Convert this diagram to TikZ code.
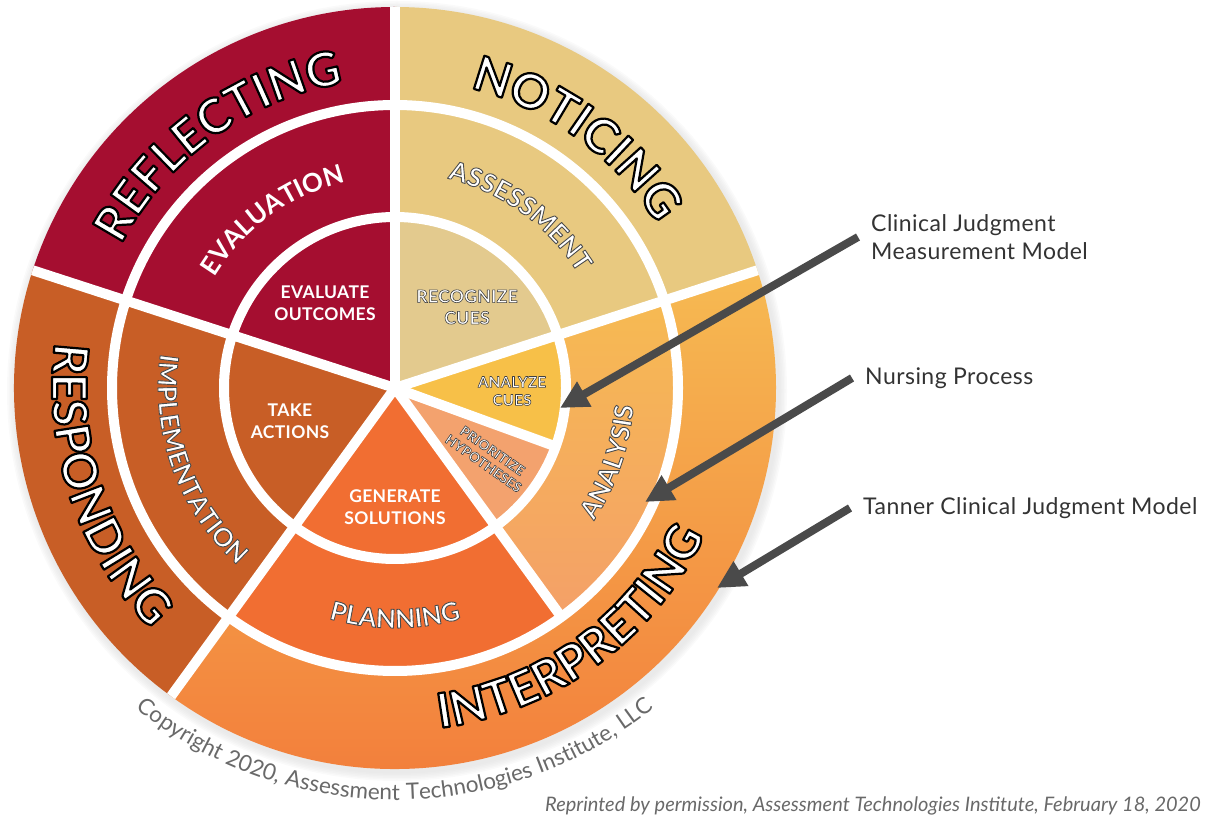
\documentclass[tikz,border=0pt]{standalone}
\usepackage{fontspec}
\setmainfont{Lato}
\usetikzlibrary{arrows.meta,calc,positioning,decorations.text}

\definecolor{my_red}{RGB}{165, 14, 48}
\definecolor{my_tan}{RGB}{232, 201, 128}
\definecolor{my_tan_in}{RGB}{227, 202, 142}
\definecolor{my_rust}{RGB}{200, 94, 38}
\definecolor{my_orange}{RGB}{241, 110, 50}
\definecolor{my_gold}{RGB}{247, 192, 72}
\definecolor{my_salmon}{RGB}{243, 162, 110}
\definecolor{my_amber}{RGB}{246, 186, 82}
\definecolor{my_peach}{RGB}{244, 160, 104}
\definecolor{my_coral}{RGB}{242, 122, 58}
\definecolor{my_arrow}{RGB}{74, 74, 74}
\definecolor{my_text}{RGB}{51, 51, 51}
\definecolor{my_copy}{RGB}{105, 105, 105}
\definecolor{my_shadow}{RGB}{215, 215, 215}

% white letters with a stroked outline (fill then stroke)
\newcommand{\olb}{\special{pdf:literal direct 1 g 0 G 2 Tr 2.2 w 1 j}}
\newcommand{\olg}{\special{pdf:literal direct 1 g 0.3 G 2 Tr 0.9 w 1 j}}
\newcommand{\ols}{\special{pdf:literal direct 1 g 0.25 G 2 Tr 0.6 w 1 j}}
\newcommand{\phasefont}{\fontsize{48}{48}\selectfont\bfseries}
\newcommand{\stepfont}{\fontsize{26}{26}\selectfont\bfseries}
\newcommand{\copyfont}{\fontsize{22.5}{22.5}\selectfont\addfontfeatures{LetterSpace=2.5}}
\newcommand{\wedgefill}[4]{\fill [#1] (0,0) -- (#3:#2) arc [start angle=#3, end angle=#4, radius=#2] -- cycle;}

\tikzset{
  sep_line/.style = {white, line width=10pt},
  ring_text/.style = {decorate, decoration={text along path, text align=center}},
  in_label/.style = {align=center, text=white, inner sep=0pt,
    font=\fontsize{17.5}{21.5}\selectfont\bfseries\addfontfeatures{LetterSpace=2}},
  side_label/.style = {align=left, text=my_text, inner xsep=13pt, inner ysep=0pt,
    font=\fontsize{23}{28}\selectfont\addfontfeatures{LetterSpace=2}},
  pointer/.style = {draw=my_arrow, line width=8pt, -{Triangle[length=28pt, width=27pt]}}
}

\begin{document}
\begin{tikzpicture}[x=1pt, y=1pt]
  \useasboundingbox (0,0) rectangle (1225,814);

  \begin{scope}[shift={(395,426)}]
    % soft shadow
    \foreach \k in {1,...,6}
      \fill [my_shadow, opacity=0.12] (2pt,-3pt) circle ({381+1.5*\k});

    % outer ring: phases
    \wedgefill{my_red}{381pt}{90}{162}
    \wedgefill{my_tan}{381pt}{18}{90}
    \wedgefill{my_rust}{381pt}{162}{234}
    \shade [top color=my_amber, bottom color=my_coral] (0,0) -- (234:381pt) arc [start angle=234, end angle=378, radius=381pt] -- cycle;

    % middle ring: nursing process
    \wedgefill{my_red}{283pt}{90}{162}
    \wedgefill{my_tan}{283pt}{18}{90}
    \wedgefill{my_rust}{283pt}{162}{234}
    \wedgefill{my_orange}{283pt}{234}{306}
    \shade [top color=my_amber, bottom color=my_peach] (0,0) -- (306:283pt) arc [start angle=306, end angle=378, radius=283pt] -- cycle;

    % inner ring: clinical judgment steps
    \wedgefill{my_red}{171pt}{90}{162}
    \wedgefill{my_tan_in}{171pt}{18}{90}
    \wedgefill{my_rust}{171pt}{162}{234}
    \wedgefill{my_orange}{171pt}{234}{306}
    \wedgefill{my_salmon}{171pt}{306}{340}
    \wedgefill{my_gold}{171pt}{340}{378}

    % white separators
    \draw [sep_line] (0,0) circle (171pt);
    \draw [sep_line] (0,0) circle (283pt);
    \foreach \a in {18,90,162,234}
      \draw [sep_line] (0,0) -- (\a:381pt);
    \draw [sep_line] (0,0) -- (306:283pt);
    \draw [sep_line] (0,0) -- (340:171pt);

    % curved labels, outer ring
    \begin{scope}
      \path [ring_text, decoration={text={|\phasefont\olb|REFLECTING}}]
        (186:309pt) arc [start angle=186, end angle=66, radius=309pt];
    \end{scope}
    \begin{scope}
      \path [ring_text, decoration={text={|\phasefont\olb|NOTICING}}]
        (114:309pt) arc [start angle=114, end angle=-6, radius=309pt];
    \end{scope}
    \begin{scope}
      \path [ring_text, decoration={text={|\phasefont\olb|RESPONDING}}]
        (138.5:343pt) arc [start angle=138.5, end angle=258.5, radius=343pt];
    \end{scope}
    \begin{scope}
      \path [ring_text, decoration={text={|\phasefont\olb|INTERPRETING}}]
        (241:343pt) arc [start angle=241, end angle=371, radius=343pt];
    \end{scope}

    % curved labels, middle ring
    \begin{scope}
      \path [ring_text, decoration={text color=white, text={|\stepfont|EVALUATION}}]
        (176:212pt) arc [start angle=176, end angle=76, radius=212pt];
    \end{scope}
    \begin{scope}
      \path [ring_text, decoration={text={|\stepfont\olg|ASSESSMENT}}]
        (104:216pt) arc [start angle=104, end angle=4, radius=216pt];
    \end{scope}
    \begin{scope}
      \path [ring_text, decoration={text={|\stepfont\olg|IMPLEMENTATION}}]
        (140:237pt) arc [start angle=140, end angle=260, radius=237pt];
    \end{scope}
    \begin{scope}
      \path [ring_text, decoration={text={|\stepfont\olg|PLANNING}}]
        (225:240pt) arc [start angle=225, end angle=315, radius=240pt];
    \end{scope}
    \begin{scope}
      \path [ring_text, decoration={text={|\stepfont\olg|ANALYSIS}}]
        (296:239pt) arc [start angle=296, end angle=386, radius=239pt];
    \end{scope}

    % copyright round the wheel
    \path [ring_text, decoration={text color=my_copy,
      text={|\copyfont|Copyright 2020, Assessment Technologies Institute, LLC}}]
      (195:412pt) arc [start angle=195, end angle=345, radius=412pt];
  \end{scope}

  % inner labels
  \node [in_label] (eval_out) at (325,511) {EVALUATE\\OUTCOMES};
  \node [in_label] (recog) at (467,507) {\ols RECOGNIZE\\\ols CUES};
  \node [in_label] (take_act) at (290,393) {TAKE\\ACTIONS};
  \node [in_label] (gen_sol) at (395,307) {GENERATE\\SOLUTIONS};
  \node [in_label, font=\fontsize{15}{18}\selectfont\bfseries\addfontfeatures{LetterSpace=2}] (analyze) at (512,423) {\ols ANALYZE\\\ols CUES};
  \node [in_label, font=\fontsize{13.5}{15.5}\selectfont\bfseries\addfontfeatures{LetterSpace=2}, rotate=-35] (prior) at (488,357) {\ols PRIORITIZE\\\ols HYPOTHESES};

  % models and pointers
  \coordinate (tip_cjmm) at (560,406);
  \coordinate (tip_np) at (645,312);
  \coordinate (tip_tanner) at (717,226);
  \node [side_label, anchor=west] (cjmm) at (858,577) {Clinical Judgment\\Measurement Model};
  \node [side_label, anchor=west] (np) at (852,436) {Nursing Process};
  \node [side_label, anchor=west] (tanner) at (850,306) {Tanner Clinical Judgment Model};
  \draw [pointer] (cjmm.west) -- (tip_cjmm);
  \draw [pointer] (np.west) -- (tip_np);
  \draw [pointer] (tanner.west) -- (tip_tanner);

  \node [anchor=base west, inner sep=0pt, text=my_copy, font=\itshape\fontsize{20}{20}\selectfont] (reprint) at (545,3)
    {Reprinted by permission, Assessment Technologies Institute, February 18, 2020};
\end{tikzpicture}
\end{document}
